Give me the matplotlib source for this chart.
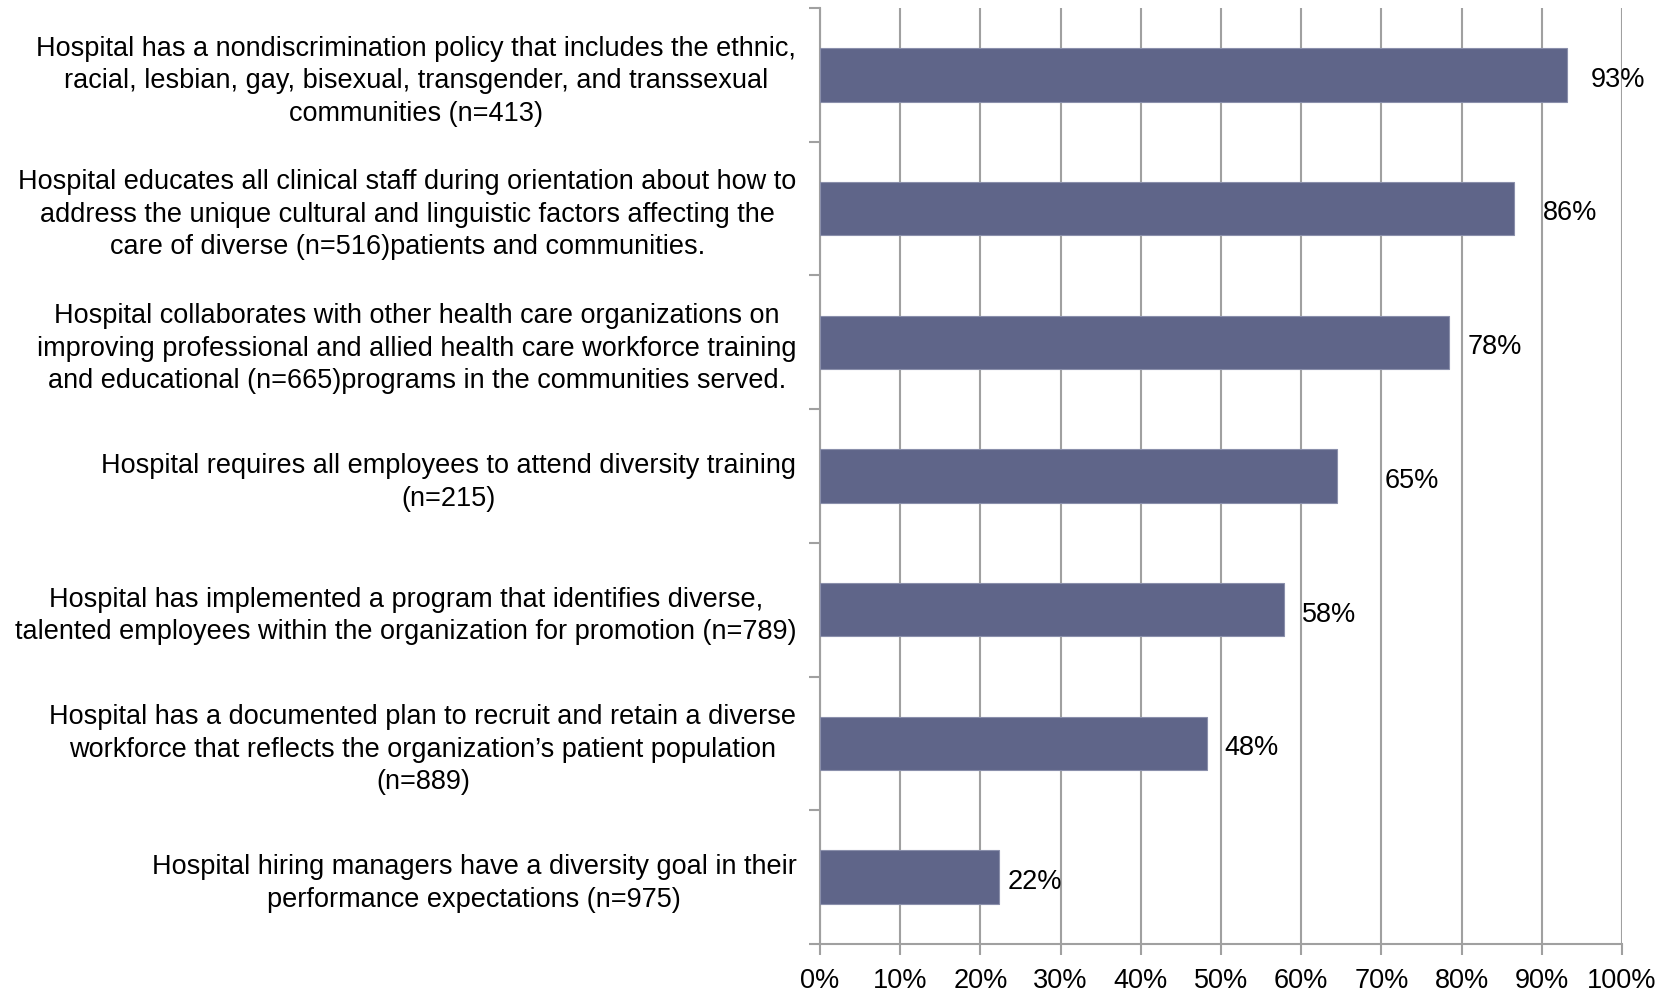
import matplotlib
matplotlib.use("Agg")
import matplotlib.pyplot as plt
import numpy as np

plt.rcParams['font.family'] = ['Liberation Sans', 'DejaVu Sans']

categories = [
    "Hospital has a nondiscrimination policy that includes the ethnic,\nracial, lesbian, gay, bisexual, transgender, and transsexual\ncommunities (n=413)",
    "Hospital educates all clinical staff during orientation about how to\naddress the unique cultural and linguistic factors affecting the\ncare of diverse (n=516)patients and communities.",
    "Hospital collaborates with other health care organizations on\nimproving professional and allied health care workforce training\nand educational (n=665)programs in the communities served.",
    "Hospital requires all employees to attend diversity training\n(n=215)",
    "Hospital has implemented a program that identifies diverse,\ntalented employees within the organization for promotion (n=789)",
    "Hospital has a documented plan to recruit and retain a diverse\nworkforce that reflects the organization\u2019s patient population\n(n=889)",
    "Hospital hiring managers have a diversity goal in their\nperformance expectations (n=975)",
]
values = [93.1, 86.5, 78.4, 64.5, 57.8, 48.2, 22.3]
value_labels = ["93%", "86%", "78%", "65%", "58%", "48%", "22%"]
xticks = [0, 10, 20, 30, 40, 50, 60, 70, 80, 90, 100]
xtick_labels = ["0%", "10%", "20%", "30%", "40%", "50%", "60%", "70%", "80%", "90%", "100%"]

# label gap from bar end, in points (labels were placed by hand in the original)
label_gap_pt = [17, 21, 13.5, 34, 13, 13, 6]

fig = plt.figure(figsize=(16.78, 9.94), dpi=100)
ax = fig.add_axes([820/1678, 1-944/994, 802/1678, 936/994])

y = np.arange(len(categories))
ax.barh(y, values, height=0.4, color='#5f6589', edgecolor='#8a8fab', linewidth=0.8, zorder=3)
ax.set_ylim(len(categories)-0.5, -0.5)
ax.set_xlim(0, 100)

ax.set_xticks(xticks)
ax.set_xticklabels(xtick_labels, fontsize=19.5)
ax.xaxis.grid(True, color='#a0a0a0', linewidth=1.5, zorder=0)
ax.tick_params(axis='x', length=8, width=1.5, color='#a0a0a0', pad=9)

ax.set_yticks(y)
ax.set_yticklabels(categories, fontsize=19.5, ha='right', multialignment='center', linespacing=1.33)
ax.tick_params(axis='y', which='major', length=0, pad=17)
ax.set_yticks(np.arange(-0.5, len(categories), 1), minor=True)
ax.tick_params(axis='y', which='minor', length=8, width=1.5, color='#a0a0a0')

for s in ['top', 'right']:
    ax.spines[s].set_visible(False)
for s in ['left', 'bottom']:
    ax.spines[s].set_color('#a0a0a0')
    ax.spines[s].set_linewidth(1.5)

for yi, v, lab, g in zip(y, values, value_labels, label_gap_pt):
    ax.annotate(lab, xy=(v, yi), xytext=(g, -3.5), textcoords='offset points',
                va='center', ha='left', fontsize=19.5, zorder=4)

fig.savefig("out.png", dpi=100)
